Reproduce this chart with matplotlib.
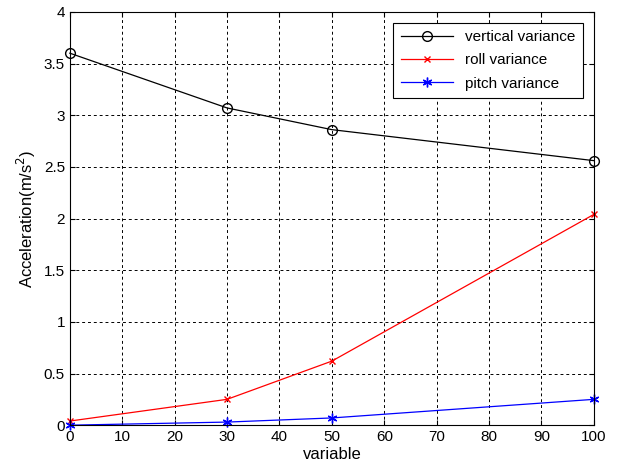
import matplotlib
matplotlib.use("Agg")
import matplotlib.pyplot as plt

x = [0, 30, 50, 100]
vertical = [3.60, 3.07, 2.86, 2.56]
roll = [0.04, 0.25, 0.62, 2.04]
pitch = [0.0, 0.03, 0.07, 0.25]

plt.rcParams['font.family'] = ['Liberation Sans', 'DejaVu Sans']

fig = plt.figure(figsize=(6.18, 4.74), dpi=100)
ax = fig.add_axes([0.113, 0.103, 0.848, 0.872])

ax.plot(x, vertical, color='black', marker='o', markerfacecolor='none',
        markersize=7, linewidth=0.9, label='vertical variance', clip_on=False)
ax.plot(x, roll, color='red', marker='x', markersize=5, linewidth=0.9,
        label='roll variance', clip_on=False)
ax.plot(x, pitch, color='blue', marker=(6, 2, 0), markersize=7, linewidth=0.9,
        label='pitch variance', clip_on=False)

ax.set_xlim(0, 100)
ax.set_ylim(0, 4)
ax.set_xticks(range(0, 101, 10))
ax.set_yticks([0, 0.5, 1, 1.5, 2, 2.5, 3, 3.5, 4])
ax.set_yticklabels(['0', '0.5', '1', '1.5', '2', '2.5', '3', '3.5', '4'])
ax.grid(True, color='black', linestyle=(0, (3, 3)), linewidth=0.7)
ax.tick_params(direction='in', labelsize=11, top=True, right=True)
ax.set_xlabel('variable', fontsize=12, labelpad=2)
ax.set_ylabel('Acceleration(m/s$^2$)', fontsize=12)

leg = ax.legend(loc='upper right', fontsize=11, fancybox=False,
                framealpha=1, edgecolor='black', borderaxespad=0.7,
                handlelength=3.4, labelspacing=0.6, borderpad=0.5)
leg.get_frame().set_linewidth(0.8)

fig.savefig('out.png', dpi=100)
